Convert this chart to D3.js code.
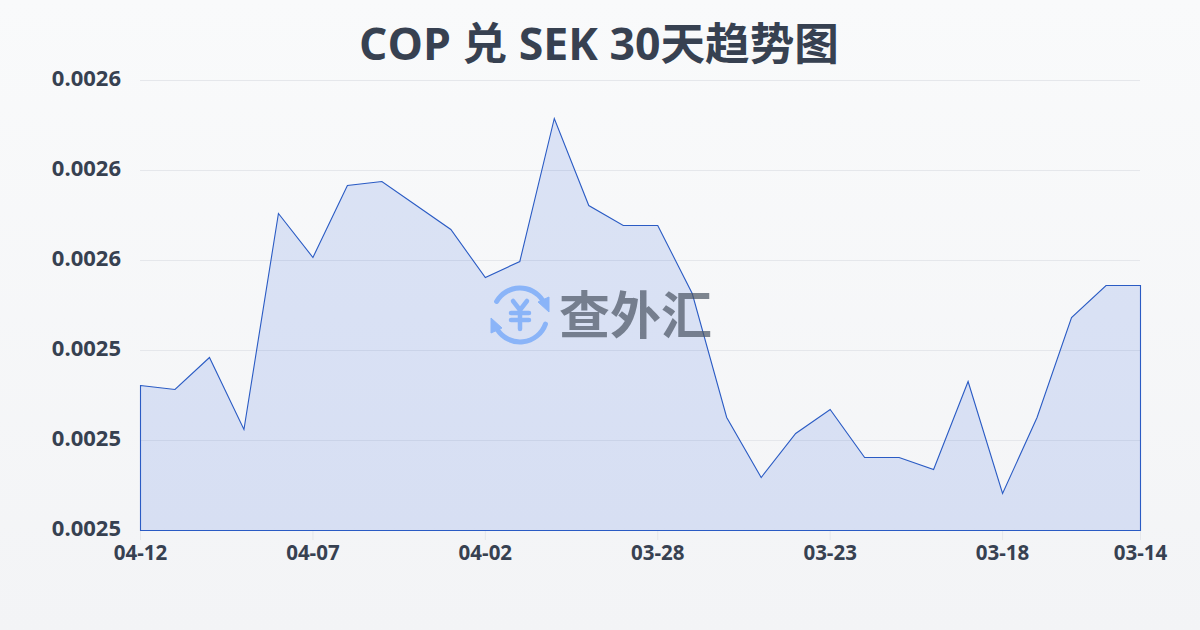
<!DOCTYPE html>
<html>
<head>
<meta charset="utf-8">
<script src="https://cdn.jsdelivr.net/npm/d3@7"></script>
<style>
  html, body { margin: 0; padding: 0; background: #f9fafb; }
  svg { display: block; }
  text { font-family: "Open Sans", "Noto Sans CJK SC", sans-serif; }
</style>
</head>
<body>
<div id="svg-container"></div>
<script>
;(function () {
  // Values
  const dates = ['04-12', '04-11', '04-10', '04-09', '04-08', '04-07', '04-06', '04-05', '04-04', '04-03',
    '04-02', '04-01', '03-31', '03-30', '03-29', '03-28', '03-27', '03-26', '03-25', '03-24',
    '03-23', '03-22', '03-21', '03-20', '03-19', '03-18', '03-17', '03-16', '03-15', '03-14']
  const rates = [0.00253222, 0.00253133, 0.00253844, 0.00252244, 0.00257044, 0.00256067, 0.00257667, 0.00257756, 0.00257222, 0.00256689,
    0.00255622, 0.00255978, 0.00259156, 0.00257222, 0.00256778, 0.00256778, 0.00255267, 0.00252511, 0.00251178, 0.00252156,
    0.00252689, 0.00251622, 0.00251622, 0.00251356, 0.00253311, 0.00250822, 0.00252511, 0.00254733, 0.00255444, 0.00255444]
  const dateTicks = ['04-12', '04-07', '04-02', '03-28', '03-23', '03-18', '03-14']
  const rateTicks = [0.0025, 0.00252, 0.00254, 0.00256, 0.00258, 0.0026]
  const title = 'COP 兑 SEK 30天趋势图'
  const brand = '查外汇'

  // Size & Margins
  const svgWidth = 1200,
    svgHeight = 630
  const margin = { top: 80, right: 60, bottom: 100, left: 140 }
  const width = svgWidth - margin.left - margin.right,
    height = svgHeight - margin.top - margin.bottom

  const textColor = '#374151'
  const gridColor = '#e5e7eb'
  const lineColor = '#2a5bc4'
  const fillColor = '#2a5fdc'

  const svg = d3
    .select('#svg-container')
    .append('svg')
    .attr('width', svgWidth)
    .attr('height', svgHeight)

  const bg = svg
    .append('defs')
    .append('linearGradient')
    .attr('id', 'bg')
    .attr('x1', '0%')
    .attr('x2', '0%')
    .attr('y1', '0%')
    .attr('y2', '100%')
  bg.append('stop').attr('offset', '0%').attr('stop-color', '#f9fafb')
  bg.append('stop').attr('offset', '100%').attr('stop-color', '#f3f4f6')

  svg
    .append('rect')
    .attr('width', svgWidth)
    .attr('height', svgHeight)
    .attr('fill', 'url(#bg)')

  svg
    .append('text')
    .attr('x', 599)
    .attr('y', 60)
    .attr('text-anchor', 'middle')
    .attr('fill', textColor)
    .style('font-size', '44.6px')
    .style('font-weight', 700)
    .text(title)

  const svgc = svg
    .append('g')
    .attr('transform', `translate(${margin.left}, ${margin.top})`)

  // Scales
  const x = d3.scalePoint().domain(dates).range([0, width])
  const y = d3.scaleLinear().domain([0.0025, 0.0026]).range([height, 0])

  // Grid + y labels
  svgc
    .append('g')
    .call(
      d3
        .axisLeft(y)
        .tickValues(rateTicks)
        .tickSize(-width)
        .tickPadding(19)
        .tickFormat(d => d.toFixed(4)),
    )
    .call(g => g.select('.domain').remove())
    .call(g => g.selectAll('.tick line').attr('stroke', gridColor).attr('stroke-width', 1))
    .call(g =>
      g
        .selectAll('.tick text')
        .attr('dy', '0.23em')
        .attr('fill', textColor)
        .style('font-size', '22px')
        .style('font-weight', 700),
    )

  // x axis
  svgc
    .append('g')
    .attr('transform', `translate(0, ${height})`)
    .call(d3.axisBottom(x).tickValues(dateTicks).tickSize(10).tickPadding(5))
    .call(g => g.select('.domain').remove())
    .call(g => g.selectAll('.tick line').attr('stroke', gridColor).attr('stroke-width', 1))
    .call(g =>
      g
        .selectAll('.tick text')
        .attr('fill', textColor)
        .style('font-size', '20.5px')
        .style('font-weight', 700),
    )

  const area = d3
    .area()
    .x((d, i) => x(dates[i]))
    .y0(height)
    .y1(d => y(d))

  svgc
    .append('path')
    .datum(rates)
    .attr('d', area)
    .attr('transform', 'translate(0.5, 0.5)')
    .attr('fill', fillColor)
    .attr('fill-opacity', 0.14)
    .attr('stroke', lineColor)
    .attr('stroke-width', 1.1)

  // Watermark
  const mark = svg.append('g').attr('transform', 'translate(520, 315)')
  const blue = '#8ab4f8'
  const arc = d3.arc().innerRadius(24.5).outerRadius(29.5).cornerRadius(2.5)
  mark.append('path').attr('d', arc({ startAngle: -1.14, endAngle: 1.1 })).attr('fill', blue)
  mark.append('path').attr('d', arc({ startAngle: 1.82, endAngle: 4.24 })).attr('fill', blue)
  // arrow heads and yen sign, drawn around the icon centre
  mark.append('path').attr('d', 'M18 -13 L29 -18 L29 -3 Z').attr('fill', blue).attr('stroke', blue).attr('stroke-linejoin', 'round')
  mark.append('path').attr('d', 'M-18 13 L-29 18 L-29 3 Z').attr('fill', blue).attr('stroke', blue).attr('stroke-linejoin', 'round')
  mark
    .append('path')
    .attr('d', 'M-7 -14 L0 -5 L7 -14 M-9 -2 H9 M-9 5 H9 M0 -5 V14')
    .attr('fill', 'none')
    .attr('stroke', blue)
    .attr('stroke-width', 4.5)
    .attr('stroke-linecap', 'round')

  svg
    .append('text')
    .attr('x', 559)
    .attr('y', 334)
    .attr('fill', '#4b5563')
    .attr('opacity', 0.7)
    .style('font-family', '"Noto Sans CJK SC"')
    .style('font-size', '51px')
    .style('font-weight', 700)
    .text(brand)
})()
</script>
</body>
</html>
